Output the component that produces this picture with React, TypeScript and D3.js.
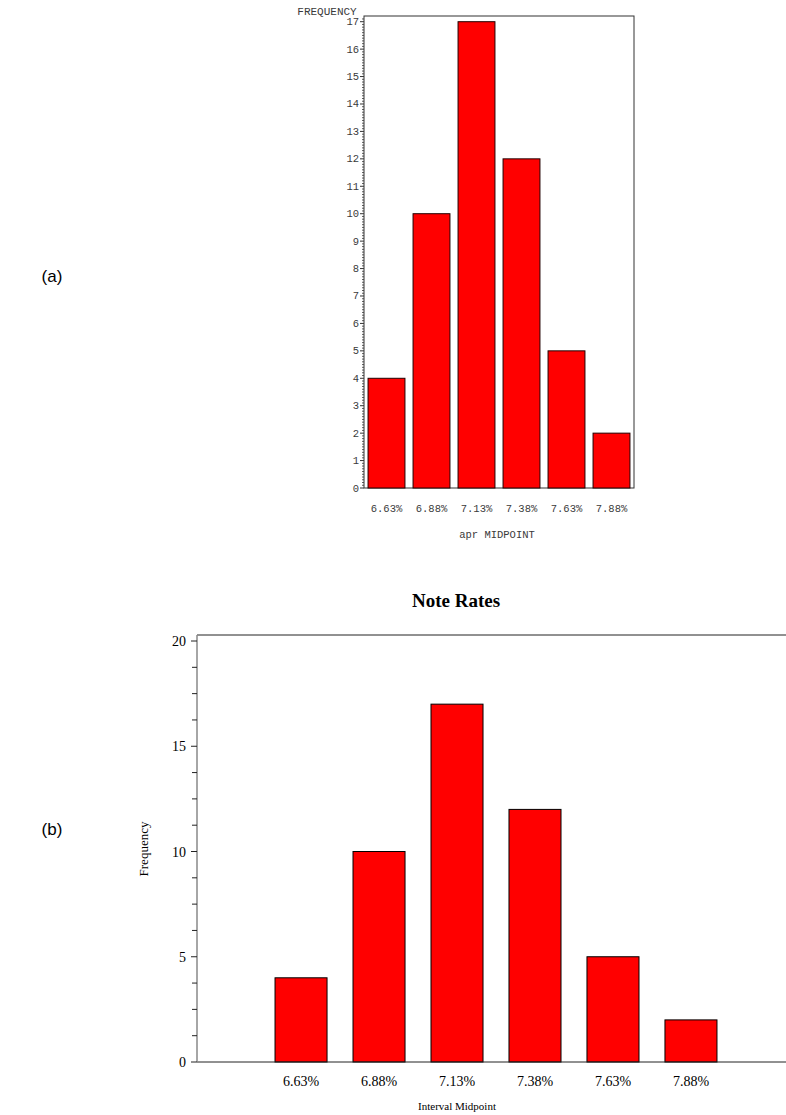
import * as d3 from "d3";
import React from "react";

const midpoints = ["6.63%", "6.88%", "7.13%", "7.38%", "7.63%", "7.88%"];
const frequencies = [4, 10, 17, 12, 5, 2];
const topTicks = d3.range(0, 18);
const bottomTicks = [0, 5, 10, 15, 20];

const W = 786;
const H = 1115;

const TopChart = () => {
    const left = 364, right = 634, top = 16, bottom = 488;
    const x = d3.scaleBand().domain(midpoints).range([left, right]).paddingInner(0.18).paddingOuter(0.09);
    const y = d3.scaleLinear().domain([0, 17]).range([bottom, 21.7]);
    const minor = d3.range(0, 172).map(i => i / 10).filter(v => Math.abs(v - Math.round(v)) > 1e-6);
    const mono = "'Liberation Mono', 'DejaVu Sans Mono', monospace";
    return (
        <g>
            <rect x={left} y={top} width={right - left} height={bottom - top} fill="none" stroke="#333" strokeWidth={1} />
            {frequencies.map((f, i) => (
                <rect key={i} x={x(midpoints[i])} y={y(f)} width={x.bandwidth()} height={bottom - y(f)}
                    fill="#ff0000" stroke="#200" strokeWidth={1} />
            ))}
            {minor.map((v, i) => (
                <line key={i} x1={left - 2} x2={left} y1={y(v)} y2={y(v)} stroke="#333" strokeWidth={0.8} />
            ))}
            {topTicks.map(t => (
                <g key={t}>
                    <line x1={left - 4} x2={left} y1={y(t)} y2={y(t)} stroke="#333" />
                    <text x={left - 5} y={y(t) + 3.5} textAnchor="end" fontFamily={mono} fontSize={10.5} fill="#3a3a3a">{t}</text>
                </g>
            ))}
            <text x={327} y={15} textAnchor="middle" fontFamily={mono} fontSize={11} fill="#3a3a3a">FREQUENCY</text>
            {midpoints.map(m => (
                <text key={m} x={(x(m) as number) + x.bandwidth() / 2} y={512} textAnchor="middle"
                    fontFamily={mono} fontSize={10.5} fill="#3a3a3a">{m}</text>
            ))}
            <text x={497} y={538} textAnchor="middle" fontFamily={mono} fontSize={10.5} fill="#3a3a3a">apr MIDPOINT</text>
        </g>
    );
};

const BottomChart = () => {
    const left = 197, top = 635, bottom = 1062;
    const x = d3.scaleBand().domain(midpoints).range([262, 730]).paddingInner(0.333).paddingOuter(0.167);
    const y = d3.scaleLinear().domain([0, 20]).range([bottom, 641]);
    const minor = d3.range(0, 21, 1.25).filter(v => v % 5 !== 0);
    const serif = "'Liberation Serif', 'DejaVu Serif', serif";
    return (
        <g>
            <text x={456} y={607} textAnchor="middle" fontFamily={serif} fontWeight="bold" fontSize={19}>Note Rates</text>
            <line x1={left} x2={W + 2} y1={top} y2={top} stroke="#222" />
            {frequencies.map((f, i) => (
                <rect key={i} x={x(midpoints[i])} y={y(f)} width={x.bandwidth()} height={bottom - y(f)}
                    fill="#ff0000" stroke="#000" strokeWidth={1} />
            ))}
            <line x1={left} x2={W + 2} y1={bottom} y2={bottom} stroke="#222" />
            <line x1={left} x2={left} y1={top} y2={bottom} stroke="#888" strokeWidth={1.5} />
            {minor.map((v, i) => (
                <line key={i} x1={left - 5} x2={left} y1={y(v)} y2={y(v)} stroke="#222" />
            ))}
            {bottomTicks.map(t => (
                <g key={t}>
                    <line x1={left - 6} x2={left} y1={y(t)} y2={y(t)} stroke="#222" />
                    <text x={left - 11} y={y(t) + 5} textAnchor="end" fontFamily={serif} fontSize={14}>{t}</text>
                </g>
            ))}
            {midpoints.map(m => (
                <text key={m} x={(x(m) as number) + x.bandwidth() / 2} y={1086} textAnchor="middle"
                    fontFamily={serif} fontSize={14}>{m}</text>
            ))}
            <text x={457} y={1110} textAnchor="middle" fontFamily={serif} fontSize={11}>Interval Midpoint</text>
            <text transform={`translate(148, 849) rotate(-90)`} textAnchor="middle" fontFamily={serif} fontSize={13}>Frequency</text>
        </g>
    );
};

export default function App() {
    const sans = "'Liberation Sans', Arial, sans-serif";
    return (
        <svg width={W} height={H} style={{ position: "absolute", left: 0, top: 0, background: "#fff" }}>
            <rect width={W} height={H} fill="#fff" />
            <text x={52} y={282} textAnchor="middle" fontFamily={sans} fontSize={17}>(a)</text>
            <text x={52} y={835} textAnchor="middle" fontFamily={sans} fontSize={17}>(b)</text>
            <TopChart />
            <BottomChart />
        </svg>
    );
}
